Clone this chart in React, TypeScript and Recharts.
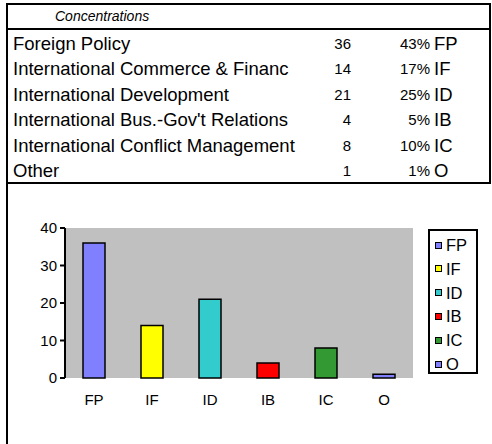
import React from 'react';
import { BarChart, Bar, XAxis, YAxis, CartesianGrid, Cell } from 'recharts';

const headerTitle = 'Concentrations';
const categories = [
  'Foreign Policy',
  'International Commerce & Financ',
  'International Development',
  "International Bus.-Gov't Relations",
  'International Conflict Management',
  'Other',
];
const counts = [36, 14, 21, 4, 8, 1];
const percents = ['43%', '17%', '25%', '5%', '10%', '1%'];
const codes = ['FP', 'IF', 'ID', 'IB', 'IC', 'O'];
const colors = ['#8080FF', '#FFFF00', '#33CCCC', '#FF0000', '#339933', '#8080FF'];
const yTicks = [0, 10, 20, 30, 40];

const data = codes.map((c, i) => ({ code: c, count: counts[i], idx: i + 0.5 }));
const gridTicks = codes.map((_, i) => i).concat([codes.length]);

const FONT = '"Liberation Sans", Arial, sans-serif';
const ROW_TOP = 31;
const ROW_H = 25.4;

export default function App() {
  return (
    <div
      style={{
        position: 'absolute',
        left: 0,
        top: 0,
        width: 492,
        height: 444,
        background: '#fff',
        fontFamily: FONT,
        color: '#000',
        overflow: 'hidden',
      }}
    >
      {/* table frame */}
      <div style={{ position: 'absolute', left: 6, top: 3, width: 2, height: 441, background: '#000' }} />
      <div style={{ position: 'absolute', left: 6, top: 3, width: 485, height: 2, background: '#000' }} />
      <div style={{ position: 'absolute', left: 489, top: 3, width: 2, height: 181, background: '#000' }} />
      <div style={{ position: 'absolute', left: 6, top: 28, width: 485, height: 2, background: '#000' }} />
      <div style={{ position: 'absolute', left: 6, top: 182, width: 485, height: 2, background: '#000' }} />

      <div
        style={{
          position: 'absolute',
          left: 55,
          top: 5,
          height: 23,
          lineHeight: '23px',
          fontSize: 14,
          fontStyle: 'italic',
        }}
      >
        {headerTitle}
      </div>

      {categories.map((name, i) => (
        <div
          key={name}
          style={{
            position: 'absolute',
            left: 8,
            top: ROW_TOP + i * ROW_H,
            width: 480,
            height: ROW_H,
            lineHeight: ROW_H + 'px',
          }}
        >
          <span style={{ position: 'absolute', left: 5, fontSize: 18.5, whiteSpace: 'nowrap' }}>{name}</span>
          <span style={{ position: 'absolute', right: 480 - 343, fontSize: 15 }}>{counts[i]}</span>
          <span style={{ position: 'absolute', right: 480 - 422, fontSize: 15 }}>{percents[i]}</span>
          <span style={{ position: 'absolute', left: 426, fontSize: 18.5 }}>{codes[i]}</span>
        </div>
      ))}

      {/* chart */}
      <div style={{ position: 'absolute', left: 0, top: 200 }}>
        <BarChart
          width={492}
          height={244}
          data={data}
          margin={{ top: 28, right: 79, bottom: 36, left: 25 }}
        >
          <CartesianGrid fill="#C0C0C0" horizontal={false} vertical={false} xAxisId="cat" />
          <XAxis
            xAxisId="top"
            orientation="top"
            dataKey="idx"
            type="number"
            domain={[0, codes.length]}
            allowDataOverflow
            height={0}
            tick={false}
            tickLine={false}
            axisLine={{ stroke: '#808080', strokeWidth: 2 }}
          />
          <XAxis
            xAxisId="grid"
            dataKey="idx"
            type="number"
            domain={[0, codes.length]}
            ticks={gridTicks}
            allowDataOverflow
            height={0}
            tick={() => <g />}
            tickSize={5}
            tickLine={{ stroke: '#000', strokeWidth: 2 }}
            axisLine={{ stroke: '#000', strokeWidth: 2 }}
          />
          <XAxis
            xAxisId="cat"
            dataKey="code"
            height={30}
            axisLine={false}
            tickLine={false}
            tickMargin={10}
            tick={{ fill: '#000', fontSize: 15, fontFamily: FONT }}
          />
          <YAxis
            domain={[0, 40]}
            ticks={yTicks}
            width={40}
            tickSize={5}
            tickMargin={3}
            tickLine={{ stroke: '#000', strokeWidth: 2 }}
            axisLine={{ stroke: '#000', strokeWidth: 2 }}
            tick={{ fill: '#000', fontSize: 15, fontFamily: FONT }}
          />
          <YAxis
            yAxisId="right"
            orientation="right"
            domain={[0, 40]}
            width={0}
            tick={false}
            tickLine={false}
            axisLine={{ stroke: '#808080', strokeWidth: 2 }}
          />
          <Bar dataKey="count" xAxisId="cat" barSize={22} stroke="#000" strokeWidth={1.5} isAnimationActive={false}>
            {data.map((d, i) => (
              <Cell key={d.code} fill={colors[i]} />
            ))}
          </Bar>
        </BarChart>
      </div>

      {/* legend */}
      <div
        style={{
          position: 'absolute',
          left: 428,
          top: 229,
          width: 46,
          height: 141,
          border: '2px solid #000',
          background: '#fff',
        }}
      >
        {codes.map((c, i) => (
          <div
            key={c}
            style={{
              position: 'absolute',
              left: 5,
              top: 4 + i * 23.8,
              height: 20,
              lineHeight: '20px',
              fontSize: 16.5,
              display: 'flex',
              alignItems: 'center',
            }}
          >
            <span
              style={{
                display: 'inline-block',
                width: 5,
                height: 5,
                border: '1.5px solid #000',
                background: colors[i],
                marginRight: 4,
              }}
            />
            {c}
          </div>
        ))}
      </div>
    </div>
  );
}
